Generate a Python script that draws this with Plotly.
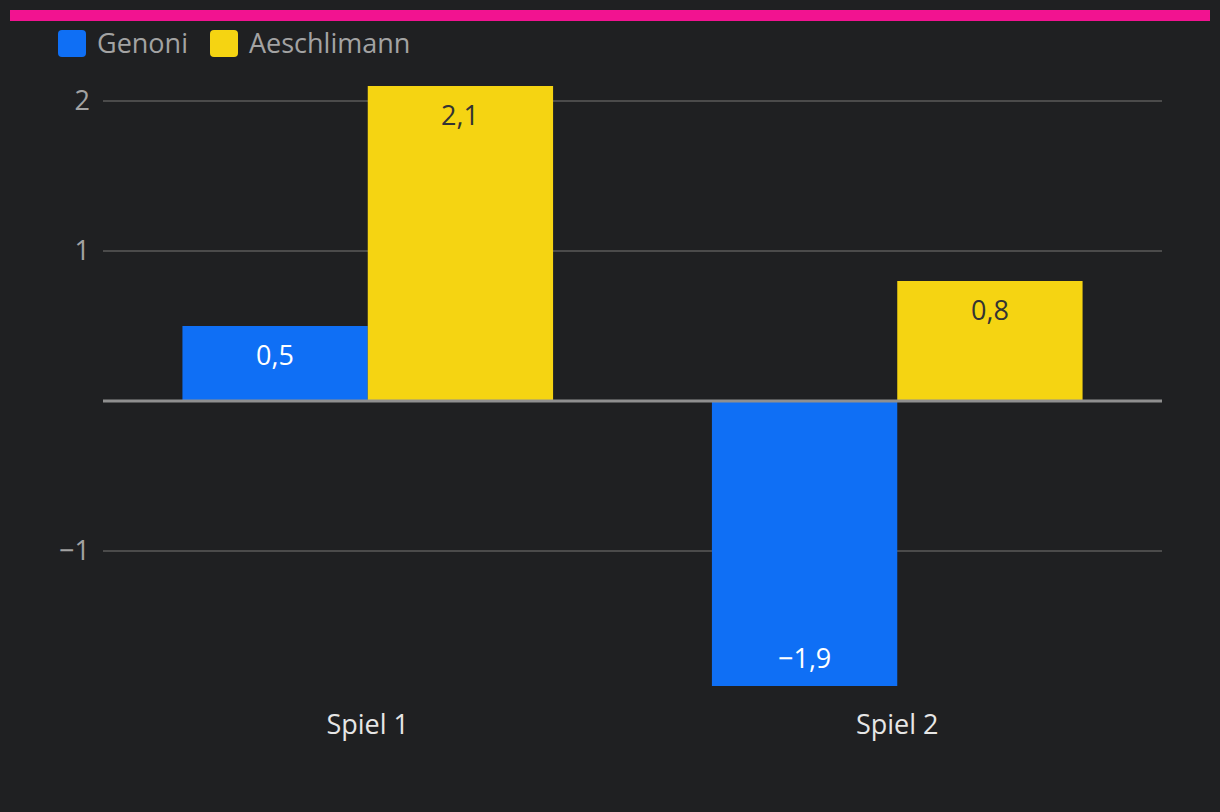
import plotly.graph_objects as go

categories = ["Spiel 1", "Spiel 2"]
genoni = [0.5, -1.9]
aeschlimann = [2.1, 0.8]
series_names = ["Genoni", "Aeschlimann"]
ytickvals = [-1, 1, 2]

W, H = 1220, 812
ML, MR, MT, MB = 103, 58, 86, 126
PW, PH = W - ML - MR, H - MT - MB

BG = "#1f2022"
BLUE = "#0f6ff5"
YELLOW = "#f5d412"
PINK = "#f21390"
FONT = "Open Sans"
FS = 27

def px(x):
    return (x - ML) / PW

def py(y):
    return (H - MB - y) / PH

def fmt(v):
    s = f"{abs(v):.1f}".replace(".", ",")
    return ("\u2212" if v < 0 else "") + s

fig = go.Figure()
fig.add_bar(name=series_names[0], x=categories, y=genoni, marker_color=BLUE,
            marker_line_width=0, showlegend=False)
fig.add_bar(name=series_names[1], x=categories, y=aeschlimann, marker_color=YELLOW,
            marker_line_width=0, showlegend=False)

bargap = 0.3
half = (1 - bargap) / 4
annotations = []
for i, cat in enumerate(categories):
    for j, (vals, col) in enumerate([(genoni, "#ffffff"), (aeschlimann, "#333333")]):
        v = vals[i]
        annotations.append(dict(
            x=i + (-half if j == 0 else half), y=v, xref="x", yref="y",
            text=fmt(v), showarrow=False, yanchor="middle",
            yshift=-28 if v > 0 else 29,
            font=dict(family=FONT, size=FS, color=col)))

# custom legend
legend_items = [(series_names[0], BLUE, 58, 95), (series_names[1], YELLOW, 210, 247)]
shapes = []
for name, col, sx, tx in legend_items:
    x0, x1, y0, y1, r = sx, sx + 28, 30, 57, 4
    path = (f"M {px(x0+r)},{py(y0)} L {px(x1-r)},{py(y0)} Q {px(x1)},{py(y0)} {px(x1)},{py(y0+r)} "
            f"L {px(x1)},{py(y1-r)} Q {px(x1)},{py(y1)} {px(x1-r)},{py(y1)} "
            f"L {px(x0+r)},{py(y1)} Q {px(x0)},{py(y1)} {px(x0)},{py(y1-r)} "
            f"L {px(x0)},{py(y0+r)} Q {px(x0)},{py(y0)} {px(x0+r)},{py(y0)} Z")
    shapes.append(dict(type="path", path=path, xref="paper", yref="paper",
                       fillcolor=col, line_width=0, layer="above"))
    annotations.append(dict(x=px(tx), y=py(43), xref="paper", yref="paper",
                            text=name, showarrow=False, xanchor="left", yanchor="middle",
                            font=dict(family=FONT, size=FS, color="#a3a3a3")))

# top accent bar
shapes.append(dict(type="rect", xref="paper", yref="paper",
                   x0=px(10), x1=px(1210), y0=py(21), y1=py(10),
                   fillcolor=PINK, line_width=0))
# zero line
shapes.append(dict(type="line", xref="paper", yref="y", x0=0, x1=1, y0=0, y1=0,
                   line=dict(color="#8f8f8f", width=3), layer="above"))

fig.update_layout(
    width=W, height=H,
    margin=dict(l=ML, r=MR, t=MT, b=MB),
    paper_bgcolor=BG, plot_bgcolor=BG,
    barmode="group", bargap=bargap, bargroupgap=0,
    separators=", ",
    showlegend=False,
    font=dict(family=FONT, size=FS, color="#a3a3a3"),
    annotations=annotations, shapes=shapes,
    xaxis=dict(showgrid=False, zeroline=False, showline=False, ticks="",
               tickfont=dict(family=FONT, size=FS, color="#e6e6e6"),
               ticklabelstandoff=20),
    yaxis=dict(range=[min(genoni + aeschlimann), max(genoni + aeschlimann)],
               tickvals=ytickvals, showgrid=True, gridcolor="#4b4b4b", gridwidth=1.5,
               zeroline=False, showline=False, ticks="",
               tickfont=dict(family=FONT, size=FS, color="#a3a3a3"),
               ticklabelstandoff=12),
)

fig.write_html("out.html", config={"displayModeBar": False},
               post_script="document.body.style.margin='0';document.body.style.overflow='hidden';document.body.style.background='%s';" % BG)
